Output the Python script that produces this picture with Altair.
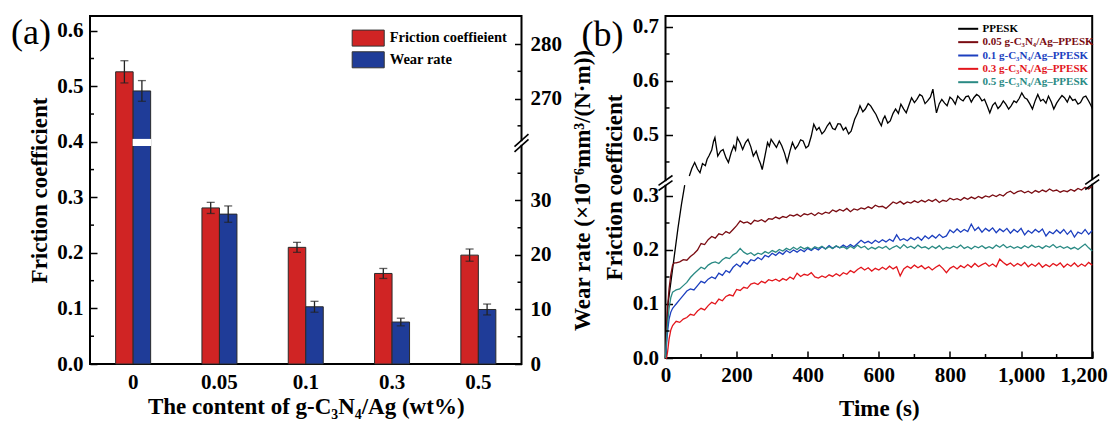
import altair as alt
import pandas as pd

FONT = "Liberation Serif"

# ---------------- Panel (a): bar data ----------------
contents = ["0", "0.05", "0.1", "0.3", "0.5"]
friction = [0.526, 0.281, 0.210, 0.163, 0.196]
friction_err = [0.020, 0.010, 0.009, 0.009, 0.011]
wear = [271.4, 27.5, 10.5, 7.7, 10.0]
wear_err = [1.9, 1.5, 1.0, 0.7, 1.0]
series_a = ["Friction coeffieient", "Wear rate"]
colors_a = ["#d02424", "#1f3c98"]

left_ticks = [0.0, 0.1, 0.2, 0.3, 0.4, 0.5, 0.6]
left_minor = [0.05, 0.15, 0.25, 0.35, 0.45, 0.55]
right_ticks = [0, 10, 20, 30, 270, 280]
right_minor = [5, 15, 25, 35, 265, 275]

# broken right axis (0-40.5 | 261.8-285)
R_BREAK = 40.5
R_SHIFT = 221.3
A_LEFT_MAX = 0.6265
A_RIGHT_MAX = 63.85
K = A_LEFT_MAX / A_RIGHT_MAX


def wear_t(w):
    return w if w <= R_BREAK else w - R_SHIFT


# ---------------- Panel (b): friction curves ----------------
series_b = ["PPESK", "0.05 g-C₃N₄/Ag–PPESK", "0.1 g-C₃N₄/Ag–PPESK",
            "0.3 g-C₃N₄/Ag–PPESK", "0.5 g-C₃N₄/Ag–PPESK"]
colors_b = ["#000000", "#7a0c12", "#1c3fbf", "#e3161c", "#2a8a84"]

time_s = [0, 3, 6, 10, 15, 20, 25] + list(range(30, 1201, 10))

cf_005 = [0.000, 0.055, 0.095, 0.128, 0.155, 0.172, 0.176,
          0.176, 0.178, 0.182, 0.181, 0.188, 0.193, 0.200,
          0.212, 0.210, 0.219, 0.225, 0.222, 0.230, 0.228, 0.234, 0.231, 0.238,
          0.245, 0.254, 0.250, 0.252, 0.248, 0.255, 0.253, 0.256, 0.252, 0.258,
          0.257, 0.261, 0.258, 0.262, 0.260, 0.265, 0.263, 0.266, 0.262, 0.267,
          0.265, 0.268, 0.264, 0.269, 0.266, 0.270, 0.268, 0.274, 0.271, 0.275,
          0.272, 0.277, 0.271, 0.276, 0.274, 0.278, 0.276, 0.280, 0.277, 0.283,
          0.280, 0.281, 0.277, 0.283, 0.289, 0.286, 0.290, 0.285, 0.289, 0.287,
          0.291, 0.288, 0.292, 0.289, 0.293, 0.290, 0.294, 0.288, 0.292, 0.290,
          0.296, 0.293, 0.295, 0.292, 0.297, 0.294, 0.298, 0.295, 0.299, 0.296,
          0.300, 0.298, 0.302, 0.299, 0.303, 0.300, 0.306, 0.309, 0.304, 0.308,
          0.310, 0.306, 0.309, 0.305, 0.310, 0.307, 0.311, 0.308, 0.313, 0.309,
          0.311, 0.307, 0.310, 0.308, 0.312, 0.309, 0.314, 0.311, 0.316, 0.313,
          0.318]

cf_01 = [0.000, 0.025, 0.050, 0.072, 0.085, 0.092, 0.096,
         0.100, 0.108, 0.116, 0.124, 0.128, 0.126, 0.134,
         0.142, 0.139, 0.146, 0.150, 0.147, 0.157, 0.153, 0.162, 0.158, 0.168,
         0.174, 0.169, 0.178, 0.174, 0.182, 0.180, 0.186, 0.182, 0.190, 0.187,
         0.194, 0.190, 0.196, 0.192, 0.199, 0.195, 0.200, 0.196, 0.201, 0.197,
         0.203, 0.199, 0.204, 0.200, 0.206, 0.202, 0.208, 0.203, 0.207, 0.204,
         0.209, 0.205, 0.210, 0.206, 0.212, 0.218, 0.213, 0.216, 0.212, 0.218,
         0.214, 0.219, 0.215, 0.220, 0.216, 0.228, 0.218, 0.221, 0.217, 0.223,
         0.219, 0.224, 0.218, 0.226, 0.221, 0.227, 0.222, 0.229, 0.223, 0.226,
         0.237, 0.232, 0.239, 0.233, 0.238, 0.234, 0.248, 0.236, 0.242, 0.233,
         0.240, 0.235, 0.241, 0.232, 0.239, 0.234, 0.240, 0.231, 0.238, 0.233,
         0.240, 0.228, 0.236, 0.231, 0.238, 0.233, 0.239, 0.226, 0.234, 0.230,
         0.237, 0.231, 0.238, 0.229, 0.236, 0.224, 0.233, 0.230, 0.238, 0.229,
         0.236]

cf_03 = [0.000, 0.000, 0.012, 0.035, 0.052, 0.060, 0.064,
         0.068, 0.066, 0.072, 0.075, 0.081, 0.079, 0.087,
         0.092, 0.089, 0.097, 0.103, 0.100, 0.109, 0.106, 0.114, 0.117, 0.115,
         0.127, 0.125, 0.131, 0.129, 0.137, 0.139, 0.136, 0.142, 0.139, 0.145,
         0.143, 0.146, 0.142, 0.147, 0.144, 0.150, 0.146, 0.157, 0.151, 0.155,
         0.153, 0.158, 0.150, 0.148, 0.152, 0.149, 0.154, 0.151, 0.156, 0.152,
         0.158, 0.155, 0.162, 0.158, 0.164, 0.168, 0.163, 0.167, 0.161, 0.166,
         0.163, 0.168, 0.164, 0.170, 0.165, 0.169, 0.152, 0.165, 0.170, 0.166,
         0.172, 0.167, 0.171, 0.165, 0.169, 0.163, 0.168, 0.172, 0.166, 0.158,
         0.166, 0.170, 0.165, 0.171, 0.167, 0.173, 0.168, 0.175, 0.169, 0.173,
         0.176, 0.170, 0.174, 0.169, 0.183, 0.177, 0.172, 0.176, 0.170, 0.175,
         0.171, 0.177, 0.169, 0.174, 0.170, 0.176, 0.168, 0.173, 0.169, 0.175,
         0.171, 0.176, 0.168, 0.174, 0.170, 0.176, 0.169, 0.174, 0.170, 0.177,
         0.172]

cf_05 = [0.000, 0.035, 0.065, 0.092, 0.112, 0.122, 0.124,
         0.126, 0.128, 0.134, 0.140, 0.149, 0.156, 0.162,
         0.168, 0.165, 0.172, 0.176, 0.178, 0.175, 0.182, 0.186, 0.184, 0.191,
         0.195, 0.203, 0.196, 0.192, 0.195, 0.190, 0.194, 0.192, 0.197, 0.194,
         0.199, 0.196, 0.201, 0.198, 0.203, 0.200, 0.205, 0.201, 0.206, 0.202,
         0.205, 0.201, 0.206, 0.203, 0.207, 0.202, 0.206, 0.203, 0.208, 0.204,
         0.206, 0.202, 0.207, 0.203, 0.209, 0.204, 0.207, 0.201, 0.205, 0.202,
         0.206, 0.203, 0.207, 0.201, 0.205, 0.208, 0.203, 0.210, 0.204, 0.207,
         0.203, 0.209, 0.204, 0.206, 0.202, 0.207, 0.203, 0.208, 0.201, 0.205,
         0.203, 0.207, 0.204, 0.209, 0.203, 0.206, 0.202, 0.207, 0.204, 0.208,
         0.203, 0.206, 0.203, 0.209, 0.205, 0.210, 0.204, 0.207, 0.203, 0.206,
         0.203, 0.208, 0.204, 0.209, 0.205, 0.207, 0.203, 0.208, 0.205, 0.210,
         0.204, 0.207, 0.203, 0.206, 0.202, 0.205, 0.201, 0.206, 0.211, 0.204,
         0.198]

# PPESK: steep initial rise, then (above the axis break) the noisy plateau
ppesk_rise_t = [0, 3, 7, 15, 25, 35, 45, 54]
ppesk_rise_v = [0.000, 0.050, 0.100, 0.140, 0.190, 0.240, 0.285, 0.320]
ppesk_t = [67, 74, 82, 90, 97, 104, 112, 117, 122, 130,
           135, 139, 143, 147, 155, 162, 170, 177, 185, 192,
           197, 202, 210, 217, 225, 232, 240, 247, 255, 262,
           267, 272, 280, 287, 292, 297, 305, 312, 320, 327,
           335, 342, 350, 357, 365, 372, 380, 387, 395, 402,
           410, 417, 425, 432, 440, 447, 455, 462, 470, 477,
           485, 492, 500, 507, 515, 522, 527, 532, 540, 547,
           555, 562, 570, 577, 585, 592, 600, 607, 612, 617,
           625, 632, 640, 647, 655, 662, 670, 677, 685, 692,
           700, 707, 715, 722, 730, 737, 745, 752, 757, 762,
           770, 777, 785, 792, 800, 807, 815, 822, 830, 837,
           845, 852, 860, 867, 875, 882, 890, 897, 905, 912,
           920, 927, 935, 942, 950, 957, 965, 972, 980, 987,
           995, 1002, 1010, 1017, 1025, 1032, 1040, 1047, 1055, 1062,
           1070, 1077, 1085, 1092, 1100, 1107, 1115, 1122, 1130, 1137,
           1145, 1152, 1160, 1167, 1175, 1182, 1190, 1197, 1200]
ppesk_v = [0.424, 0.438, 0.449, 0.437, 0.430, 0.447, 0.443, 0.455, 0.461, 0.472,
           0.488, 0.495, 0.478, 0.461, 0.470, 0.473, 0.458, 0.449, 0.468, 0.480,
           0.472, 0.495, 0.485, 0.473, 0.486, 0.492, 0.478, 0.461, 0.470, 0.455,
           0.447, 0.436, 0.462, 0.486, 0.479, 0.492, 0.484, 0.477, 0.489, 0.480,
           0.466, 0.449, 0.470, 0.486, 0.474, 0.480, 0.491, 0.489, 0.476, 0.480,
           0.498, 0.520, 0.509, 0.514, 0.502, 0.507, 0.517, 0.523, 0.512, 0.510,
           0.521, 0.520, 0.509, 0.514, 0.502, 0.507, 0.518, 0.529, 0.540, 0.554,
           0.543, 0.548, 0.558, 0.554, 0.545, 0.538, 0.526, 0.517, 0.529, 0.535,
           0.522, 0.526, 0.540, 0.548, 0.540, 0.557, 0.548, 0.541, 0.556, 0.569,
           0.560, 0.566, 0.575, 0.572, 0.558, 0.563, 0.570, 0.585, 0.562, 0.541,
           0.558, 0.566, 0.559, 0.554, 0.570, 0.566, 0.557, 0.572, 0.566, 0.563,
           0.571, 0.572, 0.561, 0.569, 0.575, 0.572, 0.563, 0.566, 0.553, 0.541,
           0.555, 0.560, 0.549, 0.554, 0.563, 0.557, 0.548, 0.554, 0.563, 0.560,
           0.568, 0.578, 0.569, 0.566, 0.557, 0.548, 0.564, 0.575, 0.563, 0.566,
           0.559, 0.572, 0.561, 0.548, 0.559, 0.566, 0.573, 0.569, 0.561, 0.572,
           0.564, 0.566, 0.557, 0.560, 0.570, 0.572, 0.563, 0.554, 0.549]

b_ticks = [0.0, 0.1, 0.2, 0.3, 0.5, 0.6, 0.7]
b_minor = [0.05, 0.15, 0.25, 0.45, 0.55, 0.65]
t_ticks = [0, 200, 400, 600, 800, 1000, 1200]
t_minor = [100, 300, 500, 700, 900, 1100]

# broken left axis of (b): 0-0.36 | 0.41-0.72
B_BREAK = 0.36
B_SHIFT = 0.087
B_MAX = 0.6333


def fric_t(v):
    return v if v <= B_BREAK else v - B_SHIFT


# ---------------- build tables ----------------
rows = []
for c, f, fe, w, we in zip(contents, friction, friction_err, wear, wear_err):
    rows.append(dict(content=c, series=series_a[0], val=f, lo=f - fe, hi=f + fe))
    rows.append(dict(content=c, series=series_a[1], val=wear_t(w) * K,
                     lo=wear_t(w - we) * K, hi=wear_t(w + we) * K))
bars_df = pd.DataFrame(rows)
gap_df = pd.DataFrame({"content": [contents[0]], "series": [series_a[1]],
                       "g0": [40.0 * K], "g1": [41.3 * K]})

lines = []
pd.DataFrame({"t": ppesk_rise_t, "v": ppesk_rise_v})
pd.DataFrame({"t": ppesk_t, "v": ppesk_v})
for t, v in zip(ppesk_rise_t, ppesk_rise_v):
    lines.append(dict(t=t, yv=fric_t(v), series=series_b[0], seg="p1"))
for t, v in zip(ppesk_t, ppesk_v):
    lines.append(dict(t=t, yv=fric_t(v), series=series_b[0], seg="p2"))
for name, vals in zip(series_b[1:], [cf_005, cf_01, cf_03, cf_05]):
    pd.DataFrame({"t": time_s, "v": vals})  # length check
    for t, v in zip(time_s, vals):
        lines.append(dict(t=t, yv=fric_t(v), series=name, seg=name))
lines_df = pd.DataFrame(lines)

one = pd.DataFrame({"k": [0]})


def inward(n):
    return alt.ExprRef(expr=str(-n))


def axis_break(xc, y0, slope=0.7, half=7, gap=2.6):
    white = alt.Chart(one).mark_rect(color="white").encode(
        x=alt.value(xc - 2.5), x2=alt.value(xc + 2.5),
        y=alt.value(y0 - gap + 0.8), y2=alt.value(y0 + gap - 0.8))
    out = [white]
    for dy in (-gap, gap):
        out.append(alt.Chart(one).mark_rule(color="black", strokeWidth=1.6).encode(
            x=alt.value(xc - half), x2=alt.value(xc + half),
            y=alt.value(y0 + dy + slope * half), y2=alt.value(y0 + dy - slope * half)))
    return out


# ---------------- Panel (a) ----------------
W_A, H_A = 431.5, 348
BAR_W = 17.5
xa = alt.X("content:N", sort=contents,
           scale=alt.Scale(paddingInner=0.5, paddingOuter=0.25),
           axis=alt.Axis(title="The content of g-C₃N₄/Ag (wt%)", labelAngle=0,
                         ticks=False, labelPadding=7, titlePadding=3))
ysc_a = alt.Scale(domain=[0, A_LEFT_MAX], nice=False)
ysc_r = alt.Scale(domain=[0, A_RIGHT_MAX], nice=False)
fill_enc = alt.Fill("series:N", scale=alt.Scale(domain=series_a, range=colors_a),
                    legend=alt.Legend(orient="none", legendX=268.7, legendY=12.6, title=None,
                                      symbolType="M-1.78,-0.89H1.78V0.89H-1.78Z",
                                      symbolSize=324, symbolStrokeColor="#333",
                                      symbolStrokeWidth=1, symbolOpacity=1,
                                      labelFont=FONT, labelFontWeight="bold",
                                      labelFontSize=14.5, labelColor="black",
                                      labelOffset=12, rowPadding=0.7))
left_axis = alt.Axis(orient="left", values=left_ticks, format=".1f",
                     tickSize=inward(7), labelPadding=14,
                     title="Friction coefficient", titlePadding=5)

layers_a = []
for k, s in enumerate(series_a):
    sub = bars_df[bars_df["series"] == s]
    off = (-0.5 if k == 0 else 0.5) * BAR_W
    layers_a.append(alt.Chart(sub).mark_bar(width=BAR_W, xOffset=off, stroke="#2a2a2a",
                                            strokeWidth=1).encode(
        x=xa, y=alt.Y("val:Q", scale=ysc_a, axis=left_axis if k == 0 else None),
        fill=fill_enc))
for k, s in enumerate(series_a):
    sub = bars_df[bars_df["series"] == s]
    off = (-0.5 if k == 0 else 0.5) * BAR_W
    layers_a.append(alt.Chart(sub).mark_rule(xOffset=off, color="#222", strokeWidth=1.3).encode(
        x=xa, y=alt.Y("lo:Q", scale=ysc_a, axis=None), y2="hi:Q"))
    for fld in ("lo", "hi"):
        layers_a.append(alt.Chart(sub).mark_tick(xOffset=off, color="#222", thickness=1.3,
                                                 size=8, orient="horizontal").encode(
            x=xa, y=alt.Y(f"{fld}:Q", scale=ysc_a, axis=None)))
layers_a.append(alt.Chart(gap_df).mark_bar(width=BAR_W + 1, xOffset=0.5 * BAR_W,
                                           color="white").encode(
    x=xa, y=alt.Y("g0:Q", scale=ysc_a, axis=None), y2="g1:Q"))
layers_a.append(alt.Chart(pd.DataFrame({"v": left_minor})).mark_rule(
    color="black", strokeWidth=1.5).encode(
    y=alt.Y("v:Q", scale=ysc_a, axis=None), x=alt.value(0), x2=alt.value(4)))
right_vals = [wear_t(v) for v in right_ticks]
right_minor_vals = [wear_t(v) for v in right_minor]
r_expr = (f"datum.value > {R_BREAK} ? format(datum.value + {R_SHIFT}, 'd') "
          f": format(datum.value, 'd')")
layers_a.append(alt.Chart(pd.DataFrame({"v": right_minor_vals})).mark_rule(
    color="black", strokeWidth=1.5).encode(
    y=alt.Y("v:Q", scale=ysc_r,
            axis=alt.Axis(orient="right", values=right_vals, labelExpr=r_expr,
                          tickSize=inward(7), labelPadding=15.5,
                          title="Wear rate (×10⁻⁶mm³/(N·m))", titleAngle=270,
                          titleBaseline="top", titlePadding=10)),
    x=alt.value(W_A - 4), x2=alt.value(W_A)))
layers_a += axis_break(W_A, 127, slope=0.9)
layers_a.append(alt.Chart(pd.DataFrame({"s": ["(a)"]})).mark_text(
    font=FONT, fontSize=36, align="left", baseline="middle", color="black").encode(
    text="s:N", x=alt.value(-79), y=alt.value(17)))

panel_a = alt.layer(*layers_a).resolve_scale(y="independent").properties(
    width=W_A, height=H_A)

# ---------------- Panel (b) ----------------
W_B, H_B = 426.7, 342
xsc_b = alt.Scale(domain=[0, 1200], nice=False)
ysc_b = alt.Scale(domain=[0, B_MAX], nice=False)
b_vals = [fric_t(v) for v in b_ticks]
b_minor_vals = [fric_t(v) for v in b_minor]
b_expr = (f"datum.value > {B_BREAK} ? format(datum.value + {B_SHIFT}, '.1f') "
          f": format(datum.value, '.1f')")
color_expr = " : ".join(f"datum.value === '{s}' ? '{c}'"
                        for s, c in zip(series_b, colors_b)) + " : 'black'"
x_axis_b = alt.Axis(orient="bottom", values=t_ticks, format=",d",
                    tickSize=inward(7), labelPadding=13, labelFlush=False,
                    labelOffset={"condition": {"test": f"datum.value === {t_ticks[-1]}",
                                               "value": -8.5},
                                 "value": 0},
                    title="Time (s)", titlePadding=12)
y_axis_b = alt.Axis(orient="left", values=b_vals, labelExpr=b_expr,
                    tickSize=inward(7), labelPadding=14,
                    title="Friction coefficient", titlePadding=5.5)

curves = alt.Chart(lines_df).mark_line(strokeWidth=1.3).encode(
    x=alt.X("t:Q", scale=xsc_b, axis=x_axis_b),
    y=alt.Y("yv:Q", scale=ysc_b, axis=y_axis_b),
    stroke=alt.Stroke("series:N", scale=alt.Scale(domain=series_b, range=colors_b),
                      legend=alt.Legend(orient="none", legendX=296.7, legendY=6.8,
                                        title=None, symbolType="M-2,0H2",
                                        symbolSize=100, symbolStrokeWidth=2,
                                        labelFont=FONT, labelFontWeight="bold",
                                        labelFontSize=11,
                                        labelColor=alt.ExprRef(expr=color_expr),
                                        labelOffset=8.3, rowPadding=2.35)),
    detail="seg:N",
)
minor_bx = alt.Chart(pd.DataFrame({"v": t_minor})).mark_rule(
    color="black", strokeWidth=1.5).encode(
    x=alt.X("v:Q", scale=xsc_b, axis=x_axis_b), y=alt.value(H_B - 4), y2=alt.value(H_B))
minor_by = alt.Chart(pd.DataFrame({"v": b_minor_vals})).mark_rule(
    color="black", strokeWidth=1.5).encode(
    y=alt.Y("v:Q", scale=ysc_b, axis=y_axis_b), x=alt.value(0), x2=alt.value(4))
lab_b = alt.Chart(pd.DataFrame({"s": ["(b)"]})).mark_text(
    font=FONT, fontSize=36, align="left", baseline="middle", color="black").encode(
    text="s:N", x=alt.value(-84), y=alt.value(19))

panel_b = alt.layer(
    curves, minor_bx, minor_by,
    *axis_break(0, 167), *axis_break(W_B, 166), lab_b
).properties(width=W_B, height=H_B)

# Fixed-size canvas (1100 x 413 inside the 8px page margin); the plot origin of
# panel (a) sits 82px from the left edge and 8px from the top.
chart = alt.hconcat(panel_a, panel_b, spacing=143.5, bounds="flush").resolve_scale(
    fill="independent", stroke="independent"
).properties(
    autosize=alt.AutoSizeParams(type="none"),
    padding={"left": 82, "top": 8, "right": 1018, "bottom": 405}
).configure_view(
    stroke="black", strokeWidth=2
).configure_axis(
    labelFont=FONT, labelFontSize=21, labelFontWeight="bold", labelColor="black",
    titleFont=FONT, titleFontSize=23, titleFontWeight="bold", titleColor="black",
    tickColor="black", tickWidth=1.5, domain=False, grid=False
)

chart.save("out.html", embed_options={"renderer": "svg", "actions": False})
